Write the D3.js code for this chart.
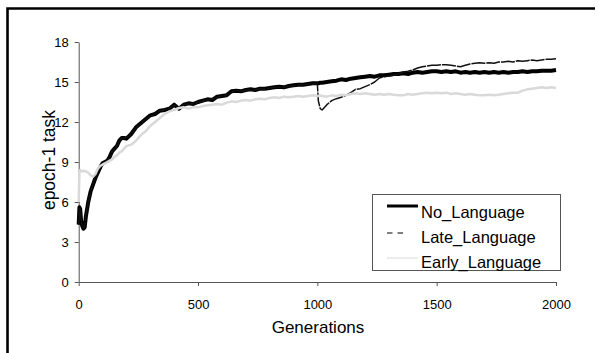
<!DOCTYPE html>
<html>
<head>
  <meta charset="utf-8">
  <title>epoch-1 task</title>
  <script src="https://d3js.org/d3.v7.min.js"></script>
  <style>
    body { margin: 0; background: #fff; }
    text { font-family: "Liberation Sans", Arial, sans-serif; }
  </style>
</head>
<body>
<script>
// generations
var gens = [0,3,6,10,15,20,25,30,40,50,60,70,80,90,100,110,120,130,140,150,160,170,180,190,
  200,220,240,260,280,300,320,340,360,380,400,420,440,460,480,500,520,540,560,580,600,
  620,640,660,680,700,720,740,760,780,800,820,840,860,880,900,920,940,960,980,1000,
  1004,1012,1020,1040,1060,1080,1100,1120,1140,1160,1180,1200,1220,1240,1260,1280,1300,
  1320,1340,1360,1380,1400,1420,1440,1460,1480,1500,1520,1540,1560,1580,1600,1620,1640,
  1660,1680,1700,1720,1740,1760,1780,1800,1820,1840,1860,1880,1900,1920,1940,1960,1980,2000];

var noLanguage = [4.3,5.6,5.5,4.6,4.2,4.0,4.1,4.9,6.0,6.8,7.3,7.8,8.2,8.6,8.9,9.0,9.1,9.4,9.8,10.0,10.2,10.6,10.8,10.8,
  10.75,11.1,11.6,11.9,12.2,12.5,12.6,12.85,12.9,13.0,13.3,13.0,13.3,13.4,13.35,13.5,13.6,13.7,13.65,13.9,13.95,
  14.0,14.3,14.35,14.3,14.4,14.45,14.4,14.5,14.5,14.55,14.6,14.65,14.6,14.7,14.75,14.8,14.8,14.85,14.9,14.9,
  14.9,14.95,14.95,15.0,15.05,15.1,15.2,15.15,15.25,15.3,15.35,15.4,15.45,15.4,15.5,15.5,15.55,
  15.6,15.6,15.65,15.6,15.7,15.75,15.7,15.75,15.8,15.8,15.75,15.8,15.75,15.8,15.7,15.75,15.7,
  15.75,15.7,15.75,15.7,15.75,15.7,15.75,15.7,15.75,15.75,15.8,15.75,15.8,15.8,15.85,15.85,15.85,15.9];

var lateLanguage = [4.3,5.5,5.5,4.7,4.2,4.0,4.2,5.0,6.0,6.8,7.4,7.8,8.3,8.6,8.9,9.0,9.15,9.4,9.75,10.0,10.2,10.55,10.8,10.8,
  10.8,11.1,11.55,11.9,12.2,12.45,12.6,12.85,12.95,13.0,13.25,13.05,13.3,13.35,13.35,13.5,13.55,13.7,13.7,13.85,13.95,
  14.0,14.25,14.35,14.3,14.4,14.4,14.4,14.5,14.45,14.55,14.6,14.6,14.6,14.7,14.7,14.8,14.8,14.85,14.85,14.9,
  13.6,13.0,12.9,13.3,13.6,13.75,13.85,14.0,14.2,14.45,14.5,14.65,14.8,15.0,15.3,15.4,15.45,
  15.5,15.6,15.75,15.8,15.9,16.05,16.15,16.2,16.25,16.25,16.3,16.3,16.25,16.2,16.15,16.25,16.35,
  16.4,16.45,16.4,16.45,16.4,16.5,16.5,16.55,16.5,16.6,16.55,16.6,16.65,16.6,16.65,16.7,16.7,16.75];

var earlyLanguage = [6.0,8.2,8.4,8.3,8.3,8.35,8.3,8.3,8.2,8.0,7.9,8.1,8.5,8.7,8.8,8.9,9.0,9.1,9.2,9.4,9.5,9.7,9.8,10.0,
  10.2,10.3,10.6,11.0,11.3,11.7,12.0,12.3,12.6,12.8,12.9,13.05,13.1,13.0,13.1,13.1,13.2,13.25,13.3,13.35,13.3,
  13.45,13.55,13.5,13.6,13.65,13.6,13.7,13.75,13.7,13.8,13.85,13.8,13.9,13.85,13.9,13.95,13.9,13.95,14.0,13.95,
  13.95,14.0,13.95,13.9,14.0,13.95,14.05,14.0,14.1,14.15,14.1,14.15,14.1,14.05,14.1,14.05,14.1,
  14.05,14.0,14.0,14.1,14.05,14.1,14.15,14.2,14.15,14.2,14.15,14.2,14.1,14.15,14.1,14.05,14.1,
  14.05,14.0,14.0,14.05,14.0,14.05,14.1,14.15,14.2,14.2,14.35,14.45,14.5,14.55,14.6,14.55,14.6,14.55];

var seriesNames = ["No_Language", "Late_Language", "Early_Language"];
var yTicks = [0, 3, 6, 9, 12, 15, 18];
var xTicks = [0, 500, 1000, 1500, 2000];

var width = 599, height = 353;
var svg = d3.select("body").append("svg")
  .attr("width", width).attr("height", height)
  .style("display", "block");

svg.append("rect").attr("width", width).attr("height", height).attr("fill", "#fff");

// outer frame (cut off at right and bottom)
svg.append("path")
  .attr("d", "M7.5,354 L7.5,8.5 L595,8.5")
  .attr("fill", "none").attr("stroke", "#000").attr("stroke-width", 2.6);

var x = d3.scaleLinear().domain([0, 2000]).range([78.7, 556]);
var y = d3.scaleLinear().domain([0, 18]).range([282, 42]);

// axes
var yAxis = svg.append("g").attr("transform", "translate(78.7,0)")
  .call(d3.axisLeft(y).tickValues(yTicks).tickFormat(d3.format("d"))
    .tickSize(4).tickSizeOuter(0).tickPadding(6));
var xAxis = svg.append("g").attr("transform", "translate(0,282)")
  .call(d3.axisBottom(x).tickValues(xTicks).tickFormat(d3.format("d"))
    .tickSize(4).tickSizeOuter(0).tickPadding(14));
[xAxis, yAxis].forEach(function(g) {
  g.select(".domain").attr("stroke", "#555");
  g.selectAll(".tick line").attr("stroke", "#555");
  g.selectAll("text").attr("fill", "#000")
    .style("font-size", "13px").style("font-family", "'Liberation Sans', Arial, sans-serif");
});

svg.append("text").attr("x", 318).attr("y", 333)
  .attr("text-anchor", "middle").style("font-size", "17px").text("Generations");
svg.append("text").attr("transform", "translate(55,160) rotate(-90)")
  .attr("text-anchor", "middle").style("font-size", "17.5px").text("epoch-1 task");

// lines
var line = d3.line().x(function(d) { return x(d[0]); }).y(function(d) { return y(d[1]); });
function pairs(vals) { return gens.map(function(g, i) { return [g, vals[i]]; }); }

var styles = [
  { data: noLanguage, color: "#000", w: 4, dash: null },
  { data: lateLanguage, color: "#111", w: 1.5, dash: "14,1" },
  { data: earlyLanguage, color: "#d9d9d9", w: 2.5, dash: null }
];
styles.forEach(function(s) {
  svg.append("path").datum(pairs(s.data))
    .attr("d", line)
    .attr("fill", "none")
    .attr("stroke", s.color)
    .attr("stroke-width", s.w)
    .attr("stroke-linejoin", "round")
    .attr("stroke-dasharray", s.dash);
});

// legend
var lg = svg.append("g");
lg.append("rect").attr("x", 372.5).attr("y", 194.5).attr("width", 188).attr("height", 76)
  .attr("fill", "#fff").attr("stroke", "#555").attr("stroke-width", 1);
var legendItems = [
  { color: "#000", w: 3, dash: null, x2: 418, ly: 206, ty: 217.7 },
  { color: "#000", w: 1, dash: "5.5,5", x2: 403, ly: 233, ty: 243.3 },
  { color: "#d9d9d9", w: 1, dash: null, x2: 418, ly: 258, ty: 267.5 }
];
legendItems.forEach(function(it, i) {
  lg.append("line").attr("x1", 387).attr("x2", it.x2).attr("y1", it.ly).attr("y2", it.ly)
    .attr("stroke", it.color).attr("stroke-width", it.w).attr("stroke-dasharray", it.dash);
  lg.append("text").attr("x", 421).attr("y", it.ty)
    .style("font-size", "16.5px").text(seriesNames[i]);
});
</script>
</body>
</html>
